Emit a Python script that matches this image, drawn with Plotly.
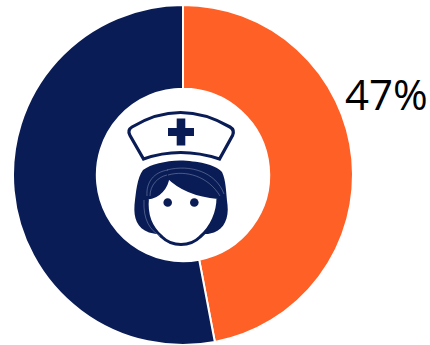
import plotly.graph_objects as go

# Share of nurses
categories = ["Female", "Male"]
shares = [47, 53]
slice_colors = ["#FF6026", "#0A1C55"]

WIDTH, HEIGHT = 430, 345
NAVY = "#0A1C55"


def px(x):
    return x / WIDTH


def py(y):
    return 1 - y / HEIGHT


def path(*parts):
    """Build an SVG path in paper space from commands given in screen pixels."""
    out = []
    for part in parts:
        if isinstance(part, str):
            out.append(part)
        else:
            out.append(f"{px(part[0]):.5f},{py(part[1]):.5f}")
    return " ".join(out)


def shape(d, fill=None, line=None, width=0):
    spec = dict(type="path", xref="paper", yref="paper", path=d, layer="above")
    spec["fillcolor"] = fill if fill else "rgba(0,0,0,0)"
    spec["line"] = dict(color=line if line else "rgba(0,0,0,0)", width=width)
    return spec


def dot(cx, cy, r):
    return dict(type="circle", xref="paper", yref="paper", layer="above",
                x0=px(cx - r), x1=px(cx + r), y0=py(cy + r), y1=py(cy - r),
                fillcolor=NAVY, line=dict(width=0))


cap = path("M", (143.5, 159), "L", (130, 135.5), "Q", (127, 130), (132, 127),
           "Q", (180, 98), (230, 127), "Q", (235, 130), (232.5, 135.5),
           "L", (219.5, 159), "Q", (180, 146), (143.5, 159), "Z")
cross = path("M", (176.7, 118.5), "L", (185.3, 118.5), "L", (185.3, 128), "L", (194, 128),
             "L", (194, 136), "L", (185.3, 136), "L", (185.3, 145.5), "L", (176.7, 145.5),
             "L", (176.7, 136), "L", (168, 136), "L", (168, 128), "L", (176.7, 128), "Z")
hair = path("M", (180, 160.5), "C", (165, 161), (151, 164), (143, 170),
            "C", (137, 178), (136, 192), (134.5, 205),
            "C", (133.5, 218), (137, 228), (149, 232.5),
            "L", (156, 234), "L", (208, 234), "L", (214, 232.5),
            "C", (224, 229), (229, 218), (227.5, 205),
            "C", (226, 192), (226, 180), (222, 172),
            "C", (215, 164), (197, 161), (180, 160.5), "Z")
face = path("M", (168, 177), "C", (167, 187), (159, 197), (147.5, 198),
            "C", (146, 212), (149, 226), (162, 237),
            "C", (172, 247), (190, 247), (200, 237),
            "C", (212, 227), (218, 212), (218, 197.5),
            "C", (200, 196), (181, 190), (168, 177), "Z")
hair_lines = [
    path("M", (147, 196), "C", (146, 182), (154, 172), (168, 170)),
    path("M", (150, 196), "C", (150, 185), (158, 177), (167, 175)),
    path("M", (167, 170), "C", (190, 164), (216, 172), (224, 194)),
    path("M", (168, 175), "C", (186, 170), (208, 176), (220, 196)),
    path("M", (144, 200), "C", (143, 220), (150, 230), (160, 236)),
]

fig = go.Figure(
    go.Pie(
        labels=categories,
        values=shares,
        marker=dict(colors=slice_colors, line=dict(color="white", width=2)),
        hole=0.507,
        sort=False,
        direction="clockwise",
        rotation=0,
        textinfo="none",
        hoverinfo="label+percent",
        showlegend=False,
        domain=dict(x=[12 / WIDTH, 354 / WIDTH], y=[0, 340 / HEIGHT]),
    )
)

fig.update_layout(
    width=WIDTH,
    height=HEIGHT,
    margin=dict(l=0, r=0, t=0, b=0),
    paper_bgcolor="white",
    plot_bgcolor="white",
    shapes=[
        shape(cap, fill="white", line=NAVY, width=3.2),
        shape(cross, fill=NAVY),
        shape(hair, fill=NAVY),
        shape(face, fill="white", line=NAVY, width=3),
        *[shape(d, line="rgba(160,175,210,0.6)", width=0.7) for d in hair_lines],
        dot(167.7, 202.5, 4.3),
        dot(194.3, 202.5, 4.3),
    ],
    annotations=[
        dict(
            text=f"{shares[0]}%",
            xref="paper", yref="paper",
            x=px(386.5), y=py(93),
            xanchor="center", yanchor="middle",
            showarrow=False,
            font=dict(family="Open Sans", size=42, color="black"),
        )
    ],
)

fig.write_html("out.html", config=dict(displayModeBar=False))
